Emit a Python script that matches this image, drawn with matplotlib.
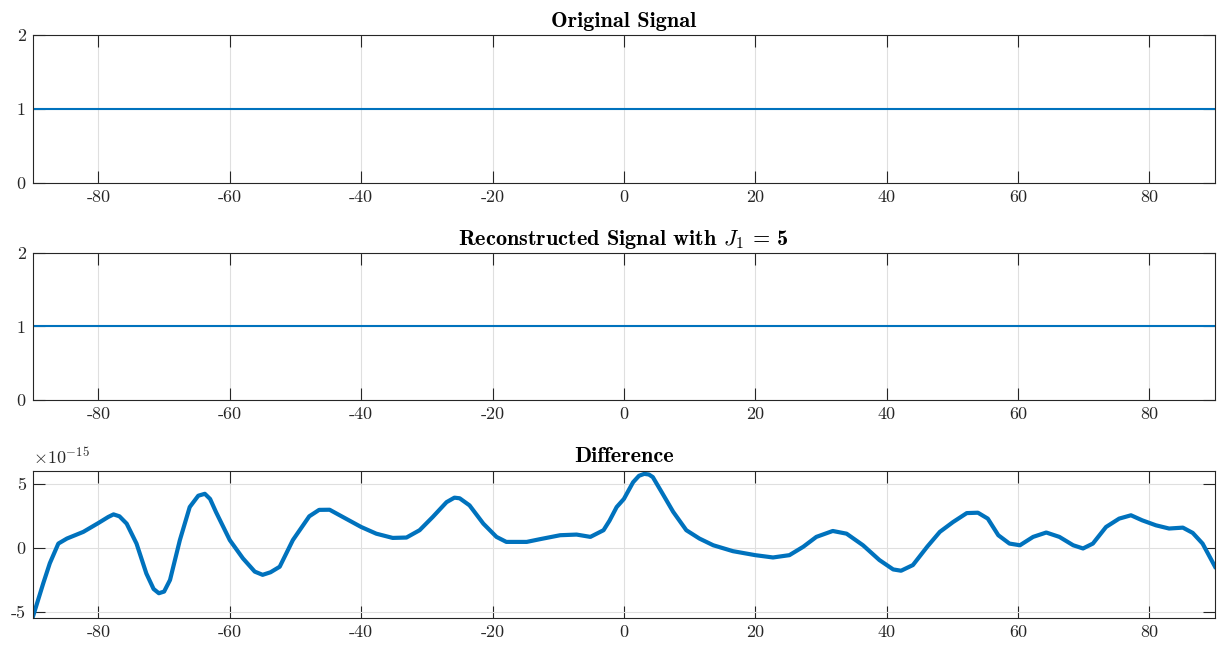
import numpy as np
import matplotlib
matplotlib.use("Agg")
import matplotlib.pyplot as plt

plt.rcParams['font.family'] = ['cmr10', 'DejaVu Serif']
plt.rcParams['mathtext.fontset'] = 'cm'
plt.rcParams['axes.unicode_minus'] = False
plt.rcParams['axes.formatter.use_mathtext'] = False

# original / reconstructed signal (constant 1 over the domain)
sig_x = [-90, 90]
orig_y = [1, 1]
recon_y = [1, 1]

# difference (units of 1e-15)
diff_x = [-90, -88.4, -87.4, -86.1, -84.8, -82.3, -80, -78.5, -77.7, -76.8, -75.7, -74.2, -72.7,
          -71.6, -70.8, -70.0, -69.1, -67.6, -66.1, -64.8, -63.8, -63.0, -62.1, -60, -58, -56.2, -55,
          -53.8, -52.4, -50.4, -47.9, -46.4, -44.8, -42.8, -40, -37.7, -35.2, -33.1, -31.1, -29.1, -27,
          -25.8, -25, -23.5, -21.4, -19.4, -17.9, -14.8, -12.8, -9.7, -7.2, -5.1, -3.1,
          -2.2, -1.1, 0, 1.4, 2.3, 3.1, 3.8, 4.4, 5.9, 7.5, 9.5, 11.5, 13.6, 16.6, 20, 22.7,
          25.2, 27.3, 29.3, 31.8, 33.9, 36.4, 38.9, 41, 42.2, 44, 46.2, 48.1, 50.1,
          52.2, 53.9, 55.4, 57, 58.7, 60.3, 62.3, 64.3, 66.3, 68.4, 69.9, 71.4, 73.4,
          75.4, 77.2, 78.9, 81, 83, 85.1, 86.6, 88.1, 90]
diff_y = [-5.4, -2.76, -1.2, 0.33, 0.72, 1.24, 1.93, 2.4, 2.6, 2.45, 1.88, 0.33, -2.0,
          -3.2, -3.53, -3.4, -2.5, 0.6, 3.17, 4.05, 4.2, 3.8, 2.78, 0.6, -0.82, -1.85, -2.1,
          -1.9, -1.47, 0.6, 2.45, 2.95, 2.96, 2.4, 1.62, 1.1, 0.77, 0.8, 1.37, 2.4, 3.55,
          3.9, 3.85, 3.3, 1.88, 0.85, 0.46, 0.46, 0.67, 0.98, 1.03, 0.85, 1.37,
          2.1, 3.17, 3.8, 5.1, 5.6, 5.75, 5.7, 5.5, 4.2, 2.8, 1.37, 0.72, 0.2, -0.26, -0.57, -0.75,
          -0.57, 0.08, 0.85, 1.31, 1.1, 0.2, -0.95, -1.68, -1.78, -1.34, 0.1, 1.24, 2.0,
          2.7, 2.73, 2.27, 0.98, 0.33, 0.2, 0.85, 1.19, 0.85, 0.2, -0.05, 0.33, 1.62,
          2.27, 2.53, 2.14, 1.75, 1.5, 1.57, 1.16, 0.33, -1.47]

blue = '#0072BD'
dark = '#262626'
gridc = '#dfdfdf'

fig = plt.figure(figsize=(12.17, 6.48), dpi=100)
L, W, H = 0.0269, 0.9715, 0.2269
ax1 = fig.add_axes([L, 0.7176, W, 0.2284])
ax2 = fig.add_axes([L, 0.3827, W, H])
ax3 = fig.add_axes([L, 0.0468, W, H])


def style(ax):
    ax.set_xlim(-90, 90)
    ax.set_xticks(range(-80, 81, 20))
    ax.grid(True, color=gridc, linewidth=0.8)
    ax.set_axisbelow(True)
    ax.tick_params(direction='in', length=8.5, width=0.8, colors=dark,
                   labelsize=13, top=True, right=True, pad=5)
    for s in ax.spines.values():
        s.set_color(dark)
        s.set_linewidth(0.8)


ax1.plot(sig_x, orig_y, color=blue, linewidth=1.5)
style(ax1)
ax1.set_ylim(0, 2)
ax1.set_yticks([0, 1, 2])
ax1.set_title('Original Signal', fontfamily='cmb10', fontsize=16, pad=6)

ax2.plot(sig_x, recon_y, color=blue, linewidth=1.5)
style(ax2)
ax2.set_ylim(0, 2)
ax2.set_yticks([0, 1, 2])
ax2.set_title(r'Reconstructed Signal with $J_1$ = 5', fontfamily='cmb10', fontsize=16, pad=6)

ax3.plot(diff_x, diff_y, color=blue, linewidth=3)
style(ax3)
ax3.set_ylim(-5.43, 6)
ax3.set_yticks([-5, 0, 5])
ax3.set_title('Difference', fontfamily='cmb10', fontsize=16, pad=6)
ax3.text(0.0, 1.03, r'$\times10^{-15}$', transform=ax3.transAxes, fontsize=13,
         color=dark, ha='left', va='bottom')

fig.savefig('out.png', dpi=100)
